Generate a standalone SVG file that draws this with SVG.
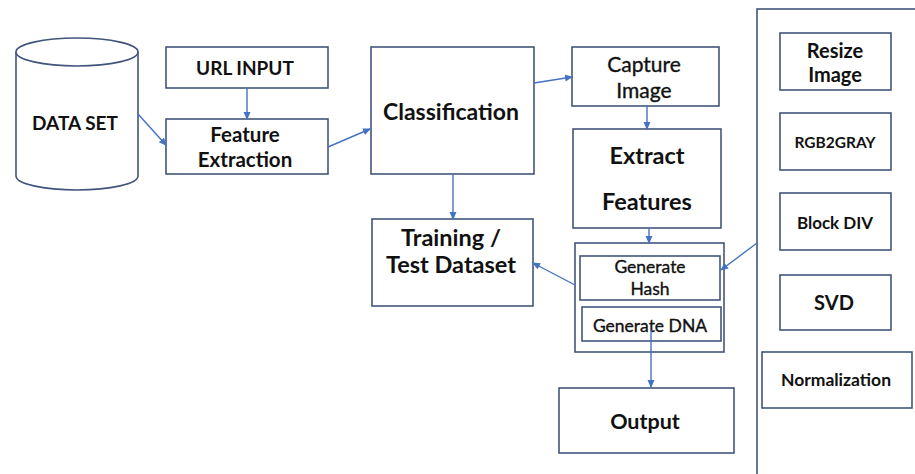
<svg xmlns="http://www.w3.org/2000/svg" width="915" height="474" viewBox="0 0 915 474">
<defs>
<marker id="ah" markerWidth="8" markerHeight="8" refX="7" refY="4" orient="auto" markerUnits="userSpaceOnUse">
<path d="M0,0.5 L8,4 L0,7.5 Z" fill="#4472c4"/>
</marker>
</defs>
<style>
.box{fill:#fff;stroke:#41557a;stroke-width:1.6}
.t{font-family:Lato,"Open Sans","Liberation Sans",sans-serif;fill:#111;text-anchor:middle;dominant-baseline:central}
.b{font-weight:bold}
.m{stroke:#111;stroke-width:0.35}
.c{stroke:#4472c4;stroke-width:1.4;fill:none;marker-end:url(#ah)}
</style>
<rect width="915" height="474" fill="#fff"/>
<g id="dataset">
<path class="box" d="M16,52 L16,176 A61,14 0 0 0 138,176 L138,52"/>
<ellipse class="box" cx="77" cy="52" rx="61" ry="14"/>
<text class="t b" x="75" y="122" font-size="19">DATA SET</text>
</g>
<g id="urlinput">
<rect class="box" x="166" y="47" width="162" height="41"/>
<text class="t b" x="245" y="67" font-size="19">URL INPUT</text>
</g>
<g id="featureextraction">
<rect class="box" x="166" y="119" width="162" height="55"/>
<text class="t b" x="245" y="134" font-size="20.5">Feature</text>
<text class="t b" x="245" y="159" font-size="20.5">Extraction</text>
</g>
<g id="classification">
<rect class="box" x="371" y="47" width="163" height="127"/>
<text class="t b" x="451" y="111" font-size="23">Classification</text>
</g>
<g id="captureimage">
<rect class="box" x="572" y="47" width="147" height="59"/>
<text class="t m" x="644" y="63" font-size="21">Capture</text>
<text class="t m" x="644" y="89" font-size="21">Image</text>
</g>
<g id="extractfeatures">
<rect class="box" x="573" y="129" width="148" height="99"/>
<text class="t b" x="647" y="155" font-size="23.5">Extract</text>
<text class="t b" x="647" y="201" font-size="23.5">Features</text>
</g>
<g id="training">
<rect class="box" x="372" y="219" width="161" height="87"/>
<text class="t b" x="451" y="237" font-size="23.5">Training /</text>
<text class="t b" x="451" y="264" font-size="23.5">Test Dataset</text>
</g>
<g id="hashdna">
<rect class="box" x="575" y="243" width="149" height="109"/>
<rect class="box" x="580" y="256" width="140" height="44"/>
<text class="t m" x="650" y="266" font-size="17.5">Generate</text>
<text class="t m" x="650" y="288" font-size="17.5">Hash</text>
<rect class="box" x="582" y="307" width="139" height="34"/>
<text class="t m" x="650" y="325" font-size="17.5">Generate DNA</text>
</g>
<g id="output">
<rect class="box" x="559" y="388" width="175" height="65"/>
<text class="t b" x="645" y="421" font-size="21.5">Output</text>
</g>
<g id="preprocessing">
<rect class="box" x="757" y="9" width="200" height="480"/>
</g>
<g id="resize">
<rect class="box" x="780" y="33" width="111" height="57"/>
<text class="t b" x="835" y="50" font-size="20">Resize</text>
<text class="t b" x="835" y="74" font-size="20">Image</text>
</g>
<g id="rgb2gray">
<rect class="box" x="780" y="113" width="111" height="57"/>
<text class="t b" x="835" y="142" font-size="15.5">RGB2GRAY</text>
</g>
<g id="blockdiv">
<rect class="box" x="780" y="193" width="111" height="57"/>
<text class="t b" x="835" y="222" font-size="17">Block DIV</text>
</g>
<g id="svd">
<rect class="box" x="780" y="275" width="111" height="55"/>
<text class="t b" x="834" y="302" font-size="20">SVD</text>
</g>
<g id="normalization">
<rect class="box" x="762" y="352" width="150" height="56"/>
<text class="t b" x="836" y="379" font-size="17.5">Normalization</text>
</g>
<g id="connectors">
<line class="c" x1="247" y1="88" x2="247" y2="119"/>
<line class="c" x1="138" y1="114" x2="166" y2="145"/>
<line class="c" x1="328" y1="147" x2="370" y2="129"/>
<line class="c" x1="534" y1="83" x2="572" y2="77"/>
<line class="c" x1="647" y1="106" x2="647" y2="129"/>
<line class="c" x1="453" y1="174" x2="453" y2="219"/>
<line class="c" x1="649" y1="228" x2="649" y2="243"/>
<line class="c" x1="575" y1="285" x2="533" y2="263"/>
<line class="c" x1="651" y1="330" x2="651" y2="387"/>
<line class="c" x1="757" y1="243" x2="721" y2="270"/>
</g>
</svg>
